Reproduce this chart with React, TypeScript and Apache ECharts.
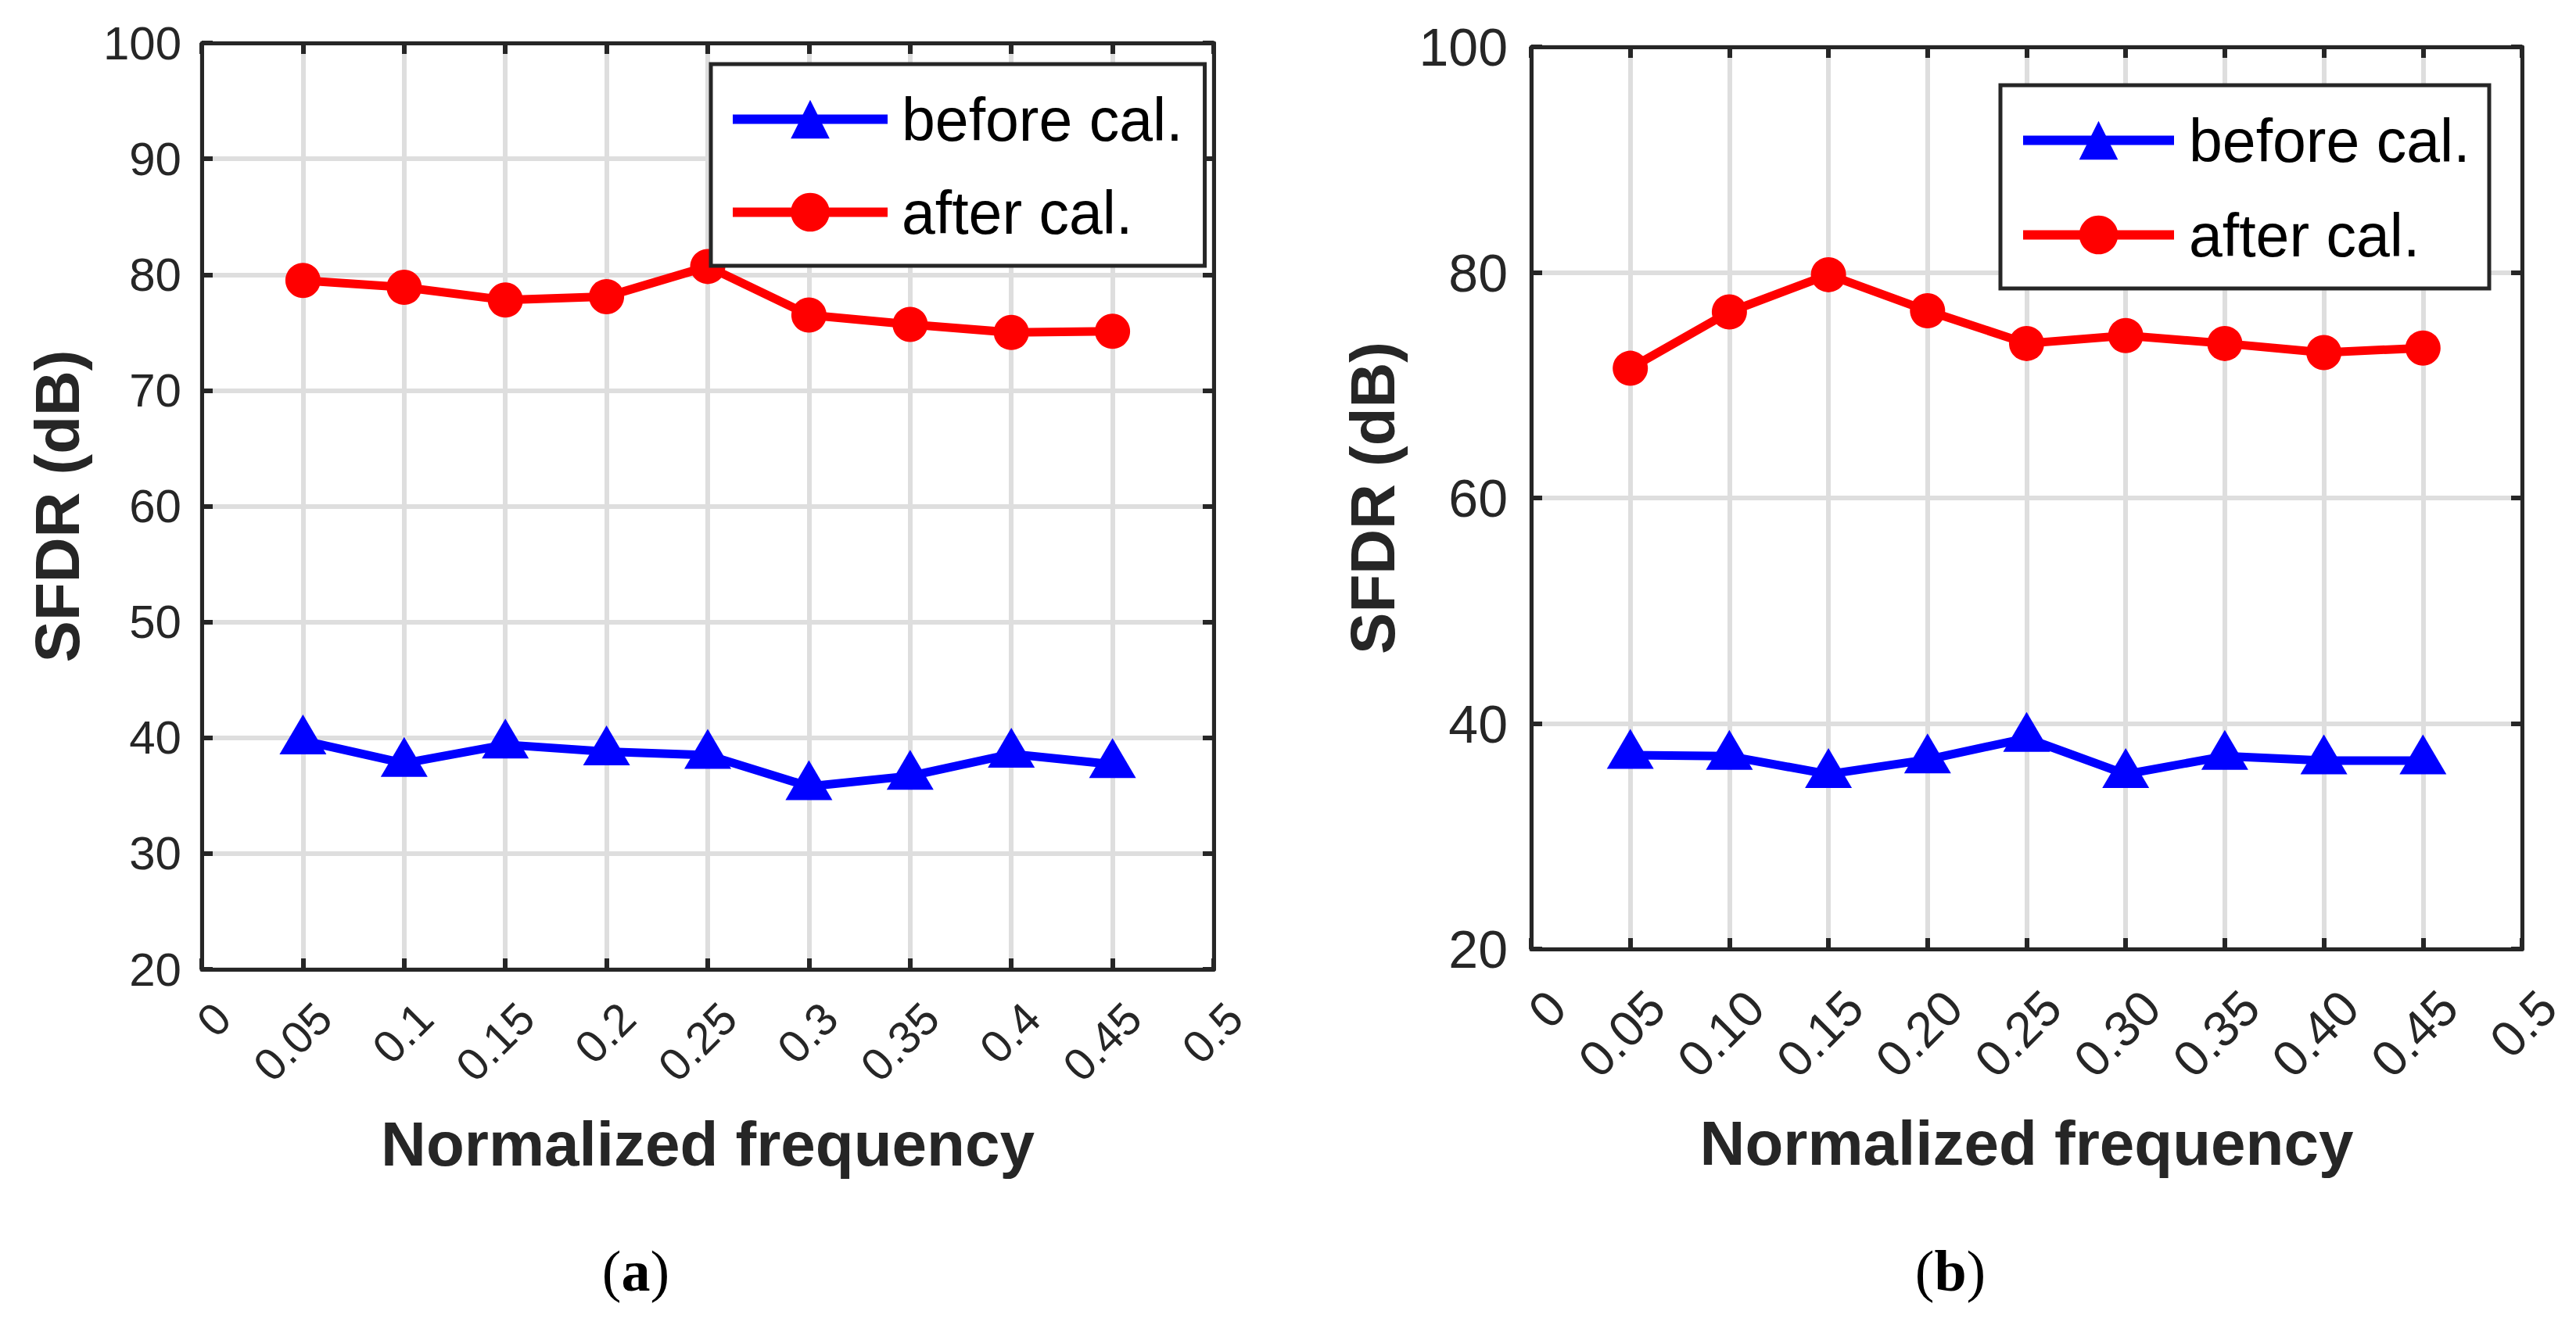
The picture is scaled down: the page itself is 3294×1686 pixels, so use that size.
import React, { useEffect, useRef } from "react";
import * as echarts from "echarts";

// ---------- data ----------
const freqs = [0.05, 0.1, 0.15, 0.2, 0.25, 0.3, 0.35, 0.4, 0.45];
const beforeA = [39.75, 37.8, 39.4, 38.8, 38.5, 35.8, 36.7, 38.6, 37.7];
const afterA = [79.5, 78.9, 77.8, 78.1, 80.7, 76.5, 75.7, 75.0, 75.1];
const beforeB = [37.2, 37.1, 35.5, 36.8, 38.7, 35.5, 37.1, 36.7, 36.7];
const afterB = [71.5, 76.5, 79.8, 76.6, 73.7, 74.4, 73.7, 72.9, 73.3];
const xTicksA = ["0", "0.05", "0.1", "0.15", "0.2", "0.25", "0.3", "0.35", "0.4", "0.45", "0.5"];
const xTicksB = ["0", "0.05", "0.10", "0.15", "0.20", "0.25", "0.30", "0.35", "0.40", "0.45", "0.5"];
const seriesNames = ["before cal.", "after cal."];
const xTitle = "Normalized frequency";
const yTitle = "SFDR (dB)";
const panelLetters = ["a", "b"];

const AX = "#262626";
const GRIDC = "#dedede";
const SANS = "'Liberation Sans', Arial, Helvetica, sans-serif";
const SERIF = "'Liberation Serif', 'Times New Roman', serif";

function mainX(grid: number, labels: string[], fs: number, margin: number, padTop: number, nameGap: number) {
  return {
    type: "value",
    gridIndex: grid,
    position: "bottom",
    min: 0,
    max: 0.5,
    interval: 0.05,
    axisLine: { show: true, onZero: false, lineStyle: { color: AX, width: 5 } },
    axisTick: { show: true, inside: true, length: 14, lineStyle: { color: AX, width: 6 } },
    splitLine: { show: true, lineStyle: { color: GRIDC, width: 6 } },
    axisLabel: {
      show: true,
      rotate: 45,
      margin,
      fontSize: fs,
      fontFamily: SANS,
      color: AX,
      formatter: (v: number) => "{t|" + (labels[Math.round(v / 0.05)] ?? "") + "}",
      rich: {
        t: { fontSize: fs, fontFamily: SANS, color: AX, padding: [padTop, 0, 0, 0] },
      },
    },
    name: xTitle,
    nameLocation: "middle",
    nameGap,
    nameTextStyle: { fontSize: 80, fontWeight: "bold", fontFamily: SANS, color: AX },
  };
}

function boxX(grid: number) {
  return {
    type: "value",
    gridIndex: grid,
    position: "top",
    min: 0,
    max: 0.5,
    interval: 0.05,
    axisLine: { show: true, onZero: false, lineStyle: { color: AX, width: 5 } },
    axisTick: { show: true, inside: true, length: 14, lineStyle: { color: AX, width: 6 } },
    splitLine: { show: false },
    axisLabel: { show: false },
  };
}

function mainY(grid: number, interval: number, fs: number, margin: number, nameGap: number) {
  return {
    type: "value",
    gridIndex: grid,
    position: "left",
    min: 20,
    max: 100,
    interval,
    axisLine: { show: true, onZero: false, lineStyle: { color: AX, width: 5 } },
    axisTick: { show: true, inside: true, length: 14, lineStyle: { color: AX, width: 6 } },
    splitLine: { show: true, lineStyle: { color: GRIDC, width: 6 } },
    axisLabel: { show: true, margin, fontSize: fs, fontFamily: SANS, color: AX },
    name: yTitle,
    nameLocation: "middle",
    nameGap,
    nameRotate: 90,
    nameTextStyle: { fontSize: 80, fontWeight: "bold", fontFamily: SANS, color: AX },
  };
}

function boxY(grid: number, interval: number) {
  return {
    type: "value",
    gridIndex: grid,
    position: "right",
    min: 20,
    max: 100,
    interval,
    axisLine: { show: true, onZero: false, lineStyle: { color: AX, width: 5 } },
    axisTick: { show: true, inside: true, length: 14, lineStyle: { color: AX, width: 6 } },
    splitLine: { show: false },
    axisLabel: { show: false },
  };
}

function lineSeries(name: string, xi: number, ys: number[], color: string, tri: boolean) {
  return {
    type: "line",
    name,
    xAxisIndex: xi,
    yAxisIndex: xi,
    data: freqs.map((f, i) => [f, ys[i]]),
    symbol: tri ? "triangle" : "circle",
    symbolSize: tri ? [60, 51] : 45,
    symbolOffset: tri ? [0, -8] : [0, 0],
    showAllSymbol: true,
    lineStyle: { color, width: 11 },
    itemStyle: { color, opacity: 1 },
    z: 3,
  };
}

function legendBox(left: number, top: number, pad: number[], itemWidth: number, itemGap: number, textW: number, textPadL: number) {
  return {
    show: true,
    orient: "vertical",
    left,
    top,
    padding: pad,
    itemWidth,
    itemHeight: 62,
    itemGap,
    borderColor: AX,
    borderWidth: 5,
    borderRadius: 0,
    backgroundColor: "#ffffff",
    selectedMode: false,
    data: seriesNames,
    lineStyle: { width: 12 },
    textStyle: { fontSize: 77, fontFamily: SANS, color: "#000", lineHeight: 62, width: textW, padding: [0, 0, 0, textPadL] },
  };
}

function panelLabel(x: number, letter: string) {
  return {
    type: "text",
    x,
    y: 1626,
    style: {
      text: "{p|(}{b|" + letter + "}{p|)}",
      align: "center",
      verticalAlign: "middle",
      rich: {
        p: { fontFamily: SERIF, fontSize: 74, fill: "#000" },
        b: { fontFamily: SERIF, fontSize: 74, fontWeight: "bold", fill: "#000" },
      },
    },
  };
}

export default function App() {
  const ref = useRef<HTMLDivElement>(null);
  useEffect(() => {
    document.body.style.margin = "0";
    if (!ref.current) return;
    const chart = echarts.init(ref.current, null, { renderer: "svg" });
    const option: any = {
      animation: false,
      backgroundColor: "#ffffff",
      textStyle: { fontFamily: SANS },
      grid: [
        { left: 258, top: 55, width: 1294, height: 1185, containLabel: false },
        { left: 1958, top: 60, width: 1267, height: 1154, containLabel: false },
      ],
      xAxis: [
        mainX(0, xTicksA, 58, 26, 76, 183),
        boxX(0),
        mainX(1, xTicksB, 64, 31, 94, 208),
        boxX(1),
      ],
      yAxis: [
        mainY(0, 10, 60, 26, 145),
        boxY(0, 10),
        mainY(1, 20, 68, 30, 163),
        boxY(1, 20),
      ],
      legend: [
        legendBox(909, 82, [32, 28, 30, 22], 198, 42, 358, 13),
        legendBox(2558, 109, [32, 23, 30, 23], 193, 44, 361, 14),
      ],
      series: [
        lineSeries(seriesNames[0], 0, beforeA, "#0000ff", true),
        lineSeries(seriesNames[1], 0, afterA, "#ff0000", false),
        lineSeries(seriesNames[0], 2, beforeB, "#0000ff", true),
        lineSeries(seriesNames[1], 2, afterB, "#ff0000", false),
      ],
      graphic: [panelLabel(813, panelLetters[0]), panelLabel(2494, panelLetters[1])],
    };
    chart.setOption(option);
    return () => chart.dispose();
  }, []);
  return <div ref={ref} style={{ width: 3294, height: 1686 }} />;
}
